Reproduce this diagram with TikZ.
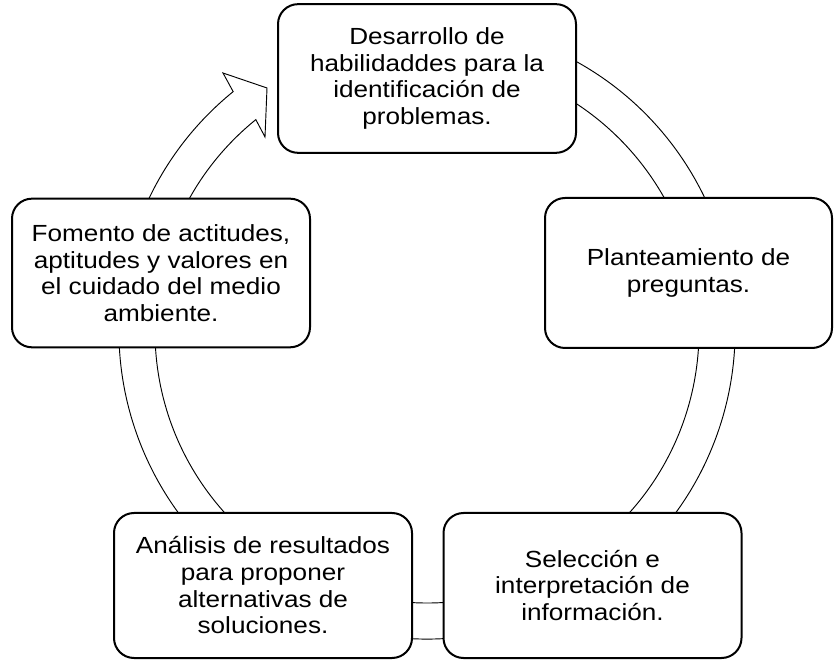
\documentclass[tikz,border=0pt]{standalone}
\usepackage{fontspec}
\setmainfont{Liberation Sans}[FakeStretch=1.12]
\usepackage{tikz}
\usetikzlibrary{calc}

\begin{document}
\begin{tikzpicture}[x=0.75pt, y=0.75pt]

\tikzstyle{stage} = [draw, line width=1.5pt, rounded corners=15pt, fill=white, align=center, inner sep=0pt, font=\fontsize{17.5}{20}\selectfont, minimum width=223.5pt, minimum height=111.5pt]
\tikzstyle{ring} = [draw, line width=0.7pt, fill=white]

\useasboundingbox (0,0) rectangle (834,660);

\coordinate (c) at (427,329);

% cycle arrow first, the boxes lie on top of it
\path[ring] ($(c)+(70:308)$) arc[start angle=70, end angle=-231, radius=308]
  -- (223,587) -- (267,572) -- (265,523)
  -- ($(c)+(129:272)$) arc[start angle=129, end angle=430, radius=272] -- cycle;

\node[stage] (1) at (427,581.5) {Desarrollo de\\habilidaddes para la\\identificación de\\problemas.};
\node[stage, minimum width=215.25pt, minimum height=112.5pt] (2) at (688.5,387) {Planteamiento de\\preguntas.};
\node[stage, minimum height=108.75pt] (3) at (592.5,74.5) {Selección e\\interpretación de\\información.};
\node[stage, minimum height=108.75pt] (4) at (263,74.5) {Análisis de resultados\\para proponer\\alternativas de\\soluciones.};
\node[stage] (5) at (161,387) {Fomento de actitudes,\\aptitudes y valores en\\el cuidado del medio\\ambiente.};

\end{tikzpicture}
\end{document}
